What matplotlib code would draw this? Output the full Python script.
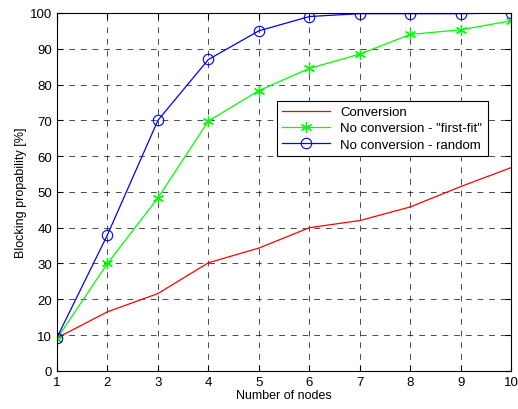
import matplotlib
matplotlib.use('Agg')
import matplotlib.pyplot as plt

plt.rcParams['font.family'] = ['Liberation Sans', 'DejaVu Sans']

# 데이터
nodes = [1, 2, 3, 4, 5, 6, 7, 8, 9, 10]
conversion = [9.2, 16.5, 21.6, 30.2, 34.3, 40.0, 42.0, 45.8, 51.5, 56.8]
first_fit = [9.0, 30.0, 48.3, 69.8, 78.3, 84.5, 88.5, 94.0, 95.3, 97.8]
random_nc = [9.3, 38.0, 70.0, 87.0, 95.0, 99.0, 99.8, 99.8, 99.8, 100.0]

fig = plt.figure(figsize=(5.18, 4.10), dpi=100)
ax = fig.add_axes([0.110, 0.093, 0.877, 0.873])

ax.plot(nodes, conversion, color='red', linewidth=0.9, label='Conversion')
ax.plot(nodes, first_fit, color='#00ff00', linewidth=0.9, marker=(6, 2, 0), markersize=8,
        markeredgewidth=0.9, label='No conversion - "first-fit"')
ax.plot(nodes, random_nc, color='blue', linewidth=0.9, marker='o', markersize=7.5,
        markerfacecolor='none', markeredgewidth=0.8, label='No conversion - random')

ax.set_xlim(1, 10)
ax.set_ylim(0, 100)
ax.set_xticks(nodes)
ax.set_yticks(range(0, 101, 10))
ax.tick_params(direction='in', labelsize=9.5, length=4, top=True, right=True)
ax.grid(True, color='black', linestyle=(0, (6, 6)), linewidth=0.7, alpha=0.7)
for s in ax.spines.values():
    s.set_linewidth(0.8)

ax.set_xlabel('Number of nodes', fontsize=9, labelpad=1)
ax.set_ylabel('Blocking propability [%]', fontsize=9, labelpad=2)

leg = ax.legend(loc='upper left', bbox_to_anchor=(0.47, 0.773), fontsize=9.5,
                fancybox=False, framealpha=1, edgecolor='black', borderpad=0.4,
                handlelength=3.6, labelspacing=0.3)
leg.get_frame().set_linewidth(0.8)

fig.savefig('out.png', dpi=100)
